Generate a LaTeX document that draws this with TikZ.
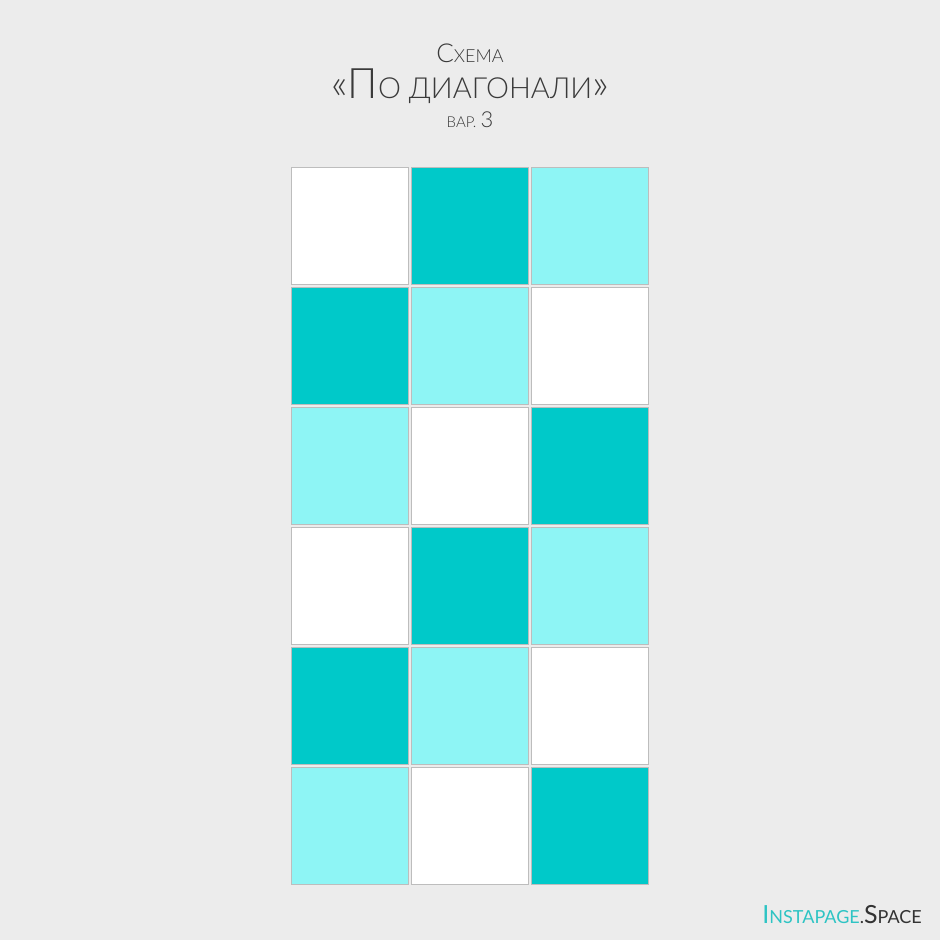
\documentclass[tikz,border=0pt]{standalone}
\usepackage{fontspec}
\setmainfont{Lato Light}
\newfontfamily\logofont{Lato}
\definecolor{bgc}{HTML}{ECECEC}
\definecolor{teal1}{HTML}{00C9C9}
\definecolor{lite1}{HTML}{8EF5F5}
\definecolor{edgec}{HTML}{BDBDBD}
\definecolor{txtc}{HTML}{3A3A3A}
\definecolor{logot}{HTML}{2EC4C4}
\definecolor{logod}{HTML}{333333}
\tikzset{
  sq/.style={draw=edgec, line width=1pt, minimum size=117pt, inner sep=0pt, outer sep=0pt},
  wsq/.style={sq, fill=white},
  tsq/.style={sq, fill=teal1},
  lsq/.style={sq, fill=lite1},
  ttl/.style={text=txtc, inner sep=0pt, anchor=base},
}
\begin{document}
\begin{tikzpicture}[x=1pt,y=-1pt]
\fill[bgc] (0,0) rectangle (940,940);
\useasboundingbox (0,0) rectangle (940,940);
% row 1
\node[wsq] (s11) at (350,226) {};
\node[tsq] (s12) at (470,226) {};
\node[lsq] (s13) at (590,226) {};
% row 2
\node[tsq] (s21) at (350,346) {};
\node[lsq] (s22) at (470,346) {};
\node[wsq] (s23) at (590,346) {};
% row 3
\node[lsq] (s31) at (350,466) {};
\node[wsq] (s32) at (470,466) {};
\node[tsq] (s33) at (590,466) {};
% row 4
\node[wsq] (s41) at (350,586) {};
\node[tsq] (s42) at (470,586) {};
\node[lsq] (s43) at (590,586) {};
% row 5
\node[tsq] (s51) at (350,706) {};
\node[lsq] (s52) at (470,706) {};
\node[wsq] (s53) at (590,706) {};
% row 6
\node[lsq] (s61) at (350,826) {};
\node[wsq] (s62) at (470,826) {};
\node[tsq] (s63) at (590,826) {};
% titles
\node[ttl] (t1) at (470,62) {\fontsize{26}{28}\selectfont С\fontsize{18}{20}\selectfont ХЕМА};
\node[ttl] (t2) at (470,98) {\fontsize{42}{44}\selectfont «П\fontsize{29}{32}\selectfont О ДИАГОНАЛИ\fontsize{42}{44}\selectfont »};
\node[ttl] (t3) at (470,127) {\fontsize{15}{17}\selectfont ВАР. \fontsize{22}{24}\selectfont 3};
% logo
\node[inner sep=0pt, anchor=base east] (logo) at (922,923) {\logofont\fontsize{25}{27}\selectfont\color{logot}I\fontsize{18}{20}\selectfont NSTAPAGE\color{logod}.\fontsize{25}{27}\selectfont S\fontsize{18}{20}\selectfont PACE};
\end{tikzpicture}
\end{document}
